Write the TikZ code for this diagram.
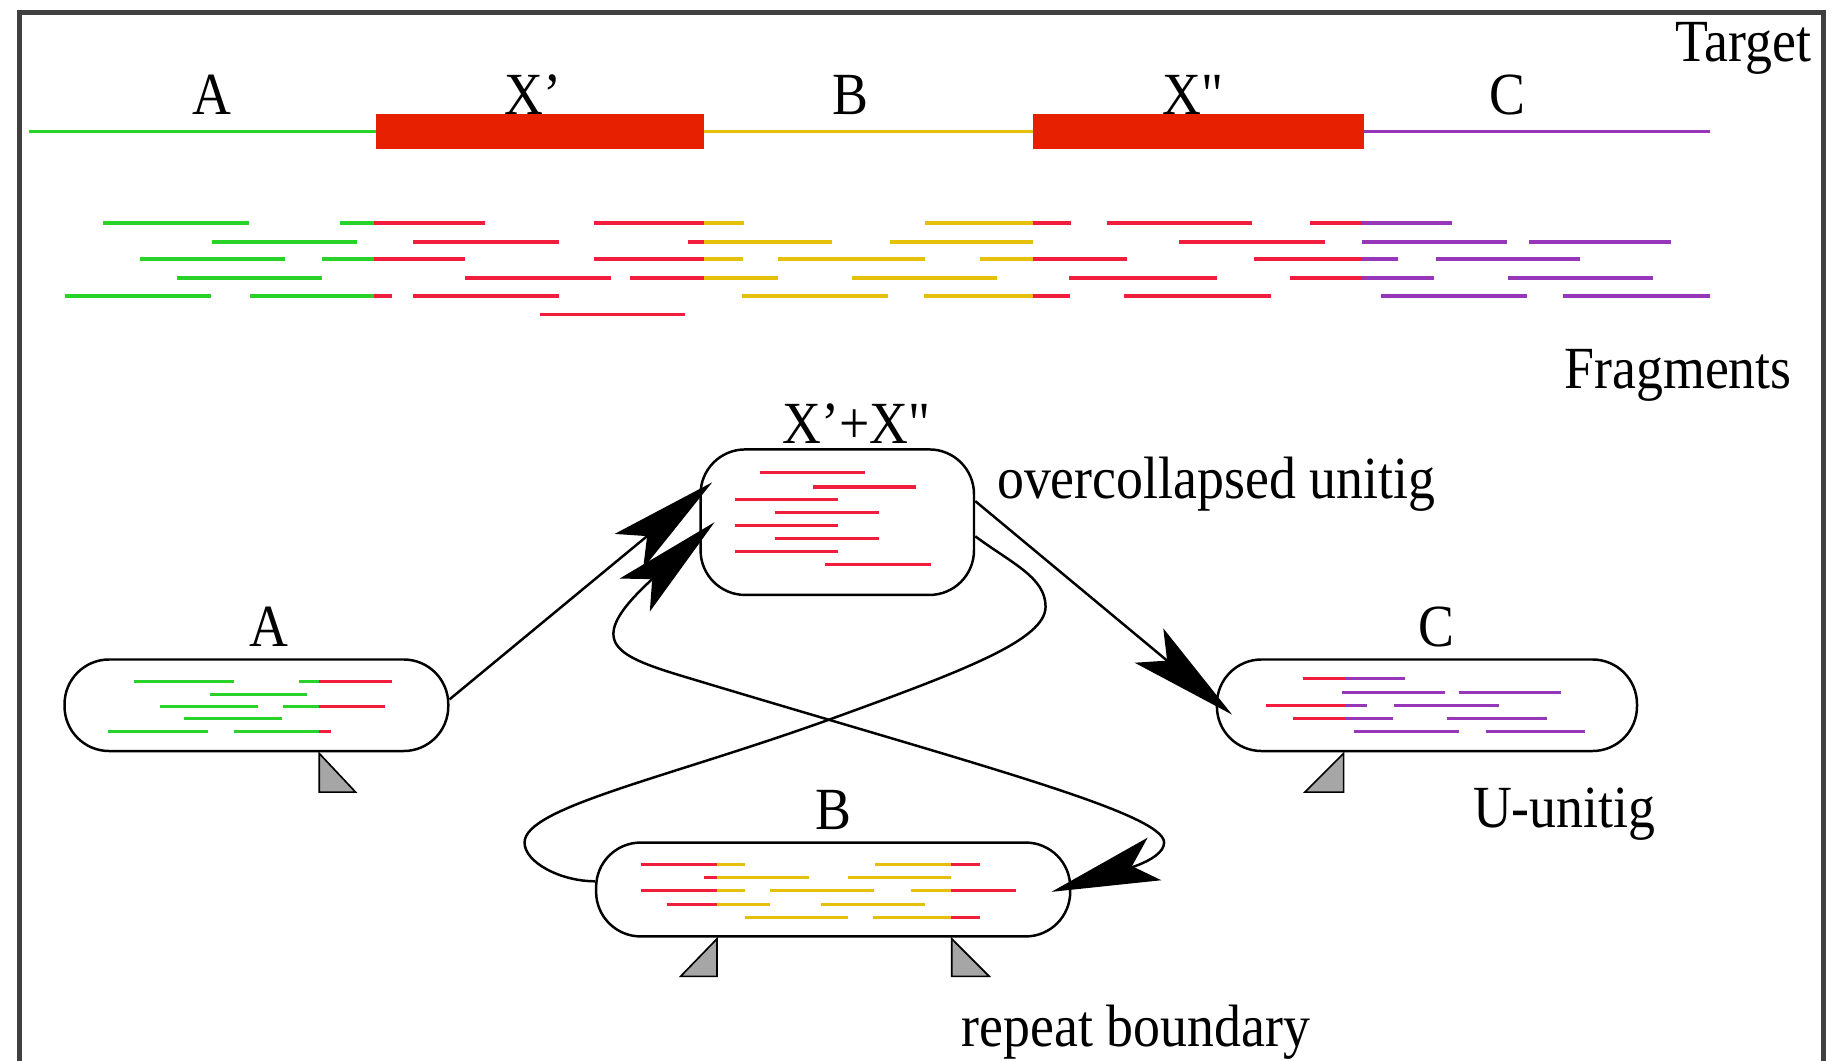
\documentclass[tikz,border=0pt]{standalone}
\usepackage{fontspec}
\setmainfont{Liberation Serif}[FakeStretch=0.9]
\newfontfamily\qfont{Liberation Serif}[FakeStretch=0.9]
\usetikzlibrary{arrows.meta}

\definecolor{fgreen}{RGB}{40,210,40}
\definecolor{fred}{RGB}{240,30,60}
\definecolor{fyellow}{RGB}{228,192,10}
\definecolor{fpurple}{RGB}{150,55,185}
\definecolor{boxred}{RGB}{230,32,0}

\begin{document}
\begin{tikzpicture}[
  font=\fontsize{14.5}{17}\selectfont,
  >={Stealth[length=0.92cm,width=0.38cm,inset=0.2cm]},
  unitig/.style={draw, line width=0.6pt, rounded corners=0.38cm, inner sep=0pt},
  link/.style={line width=0.6pt},
  lbl/.style={inner sep=0pt, anchor=base},
  tline/.style={line width=0.8pt},
  frag/.style={line width=0.9pt},
  sfrag/.style={line width=0.75pt},
  bnd/.style={fill=gray!70, draw=black, line width=0.4pt}
]
\useasboundingbox (0,0) rectangle (15.68,-9.04);

% Frame
\draw[line width=1.2pt, black!75] (0.165,-9.4) -- (0.165,-0.11) -- (15.54,-0.11) -- (15.54,-9.4);

% Target
\draw[tline, fgreen] (0.25,-1.12) -- (3.20,-1.12);
\draw[tline, fyellow] (6.00,-1.12) -- (8.80,-1.12);
\draw[tline, fpurple] (11.62,-1.12) -- (14.57,-1.12);
\fill[boxred] (3.20,-0.97) rectangle (6.00,-1.27);
\fill[boxred] (8.80,-0.97) rectangle (11.62,-1.27);

\node[lbl] (labA) at (1.81,-0.98) {A};
\node[lbl] (labX1) at (4.54,-0.98) {X'};
\node[lbl] (labB) at (7.245,-0.98) {B};
\node[lbl] (labX2) at (10.165,-0.98) {\qfont X"};
\node[lbl] (labC) at (12.85,-0.98) {C};
\node[lbl, anchor=base east] (target) at (15.44,-0.52) {Target};

% Fragments
\draw[frag, fgreen] (0.88,-1.90) -- (2.12,-1.90) (2.90,-1.90) -- (3.19,-1.90)
  (1.81,-2.06) -- (3.04,-2.06)
  (1.19,-2.21) -- (2.43,-2.21) (2.74,-2.21) -- (3.19,-2.21)
  (1.51,-2.37) -- (2.74,-2.37)
  (0.55,-2.52) -- (1.80,-2.52) (2.13,-2.52) -- (3.19,-2.52);
\draw[frag, fred] (3.19,-1.90) -- (4.13,-1.90) (5.06,-1.90) -- (6.00,-1.90)
  (3.52,-2.06) -- (4.76,-2.06) (5.86,-2.06) -- (6.00,-2.06)
  (3.19,-2.21) -- (3.96,-2.21) (5.06,-2.21) -- (6.00,-2.21)
  (3.96,-2.37) -- (5.21,-2.37) (5.37,-2.37) -- (6.00,-2.37)
  (3.19,-2.52) -- (3.34,-2.52) (3.52,-2.52) -- (4.76,-2.52)
  (4.60,-2.68) -- (5.84,-2.68);
\draw[frag, fyellow] (6.00,-1.90) -- (6.34,-1.90) (7.88,-1.90) -- (8.80,-1.90)
  (6.00,-2.06) -- (7.09,-2.06) (7.58,-2.06) -- (8.80,-2.06)
  (6.00,-2.21) -- (6.33,-2.21) (6.63,-2.21) -- (7.88,-2.21) (8.35,-2.21) -- (8.80,-2.21)
  (6.00,-2.37) -- (6.63,-2.37) (7.26,-2.37) -- (8.50,-2.37)
  (6.32,-2.52) -- (7.57,-2.52) (7.87,-2.52) -- (8.80,-2.52);
\draw[frag, fred] (8.80,-1.90) -- (9.13,-1.90) (9.43,-1.90) -- (10.67,-1.90) (11.16,-1.90) -- (11.61,-1.90)
  (10.05,-2.06) -- (11.29,-2.06)
  (8.80,-2.21) -- (9.60,-2.21) (10.69,-2.21) -- (11.61,-2.21)
  (9.11,-2.37) -- (10.37,-2.37) (10.99,-2.37) -- (11.61,-2.37)
  (8.80,-2.52) -- (9.12,-2.52) (9.58,-2.52) -- (10.83,-2.52);
\draw[frag, fpurple] (11.61,-1.90) -- (12.37,-1.90)
  (11.61,-2.06) -- (12.84,-2.06) (13.03,-2.06) -- (14.24,-2.06)
  (11.61,-2.21) -- (11.91,-2.21) (12.24,-2.21) -- (13.46,-2.21)
  (11.61,-2.37) -- (12.22,-2.37) (12.85,-2.37) -- (14.09,-2.37)
  (11.77,-2.52) -- (13.01,-2.52) (13.32,-2.52) -- (14.57,-2.52);

\node[lbl] (fragments) at (14.30,-3.31) {Fragments};

% Unitigs
\node[unitig, minimum width=2.33cm, minimum height=1.24cm] (X) at (7.135,-4.45) {};
\node[unitig, minimum width=3.27cm, minimum height=0.78cm] (A) at (2.185,-6.01) {};
\node[unitig, minimum width=3.58cm, minimum height=0.78cm] (C) at (12.16,-6.01) {};
\node[unitig, minimum width=4.04cm, minimum height=0.80cm] (B) at (7.10,-7.58) {};

\node[lbl] (labXX) at (7.30,-3.78) {X'+{\qfont X"}};
\node[lbl, anchor=base west] (over) at (8.49,-4.25) {overcollapsed unitig};
\node[lbl] (labUA) at (2.29,-5.51) {A};
\node[lbl] (labUC) at (12.24,-5.51) {C};
\node[lbl] (labUB) at (7.10,-7.07) {B};
\node[lbl] (uunitig) at (13.33,-7.05) {U-unitig};
\node[lbl, anchor=base west] (repeat) at (8.19,-8.92) {repeat boundary};

% Fragments inside unitigs
\draw[sfrag, fred] (6.48,-4.03) -- (7.37,-4.03) (6.93,-4.15) -- (7.81,-4.15)
  (6.26,-4.26) -- (7.14,-4.26) (6.60,-4.37) -- (7.49,-4.37)
  (6.26,-4.48) -- (7.14,-4.48) (6.60,-4.59) -- (7.49,-4.59)
  (6.26,-4.70) -- (7.14,-4.70) (7.03,-4.81) -- (7.93,-4.81);
\draw[sfrag, fgreen] (1.14,-5.81) -- (1.99,-5.81) (2.55,-5.81) -- (2.72,-5.81)
  (1.79,-5.915) -- (2.62,-5.915)
  (1.36,-6.02) -- (2.20,-6.02) (2.41,-6.02) -- (2.72,-6.02)
  (1.57,-6.125) -- (2.40,-6.125)
  (0.92,-6.23) -- (1.77,-6.23) (1.99,-6.23) -- (2.72,-6.23);
\draw[sfrag, fred] (2.72,-5.81) -- (3.34,-5.81) (2.72,-6.02) -- (3.28,-6.02)
  (2.72,-6.23) -- (2.82,-6.23);
\draw[sfrag, fred] (11.10,-5.785) -- (11.46,-5.785) (10.79,-6.015) -- (11.46,-6.015)
  (11.02,-6.12) -- (11.46,-6.12);
\draw[sfrag, fpurple] (11.46,-5.785) -- (11.97,-5.785)
  (11.44,-5.90) -- (12.31,-5.90) (12.43,-5.90) -- (13.30,-5.90)
  (11.46,-6.015) -- (11.65,-6.015) (11.88,-6.015) -- (12.77,-6.015)
  (11.46,-6.12) -- (11.87,-6.12) (12.33,-6.12) -- (13.18,-6.12)
  (11.54,-6.235) -- (12.43,-6.235) (12.66,-6.235) -- (13.51,-6.235);
\draw[sfrag, fred] (5.46,-7.365) -- (6.11,-7.365) (8.10,-7.365) -- (8.35,-7.365)
  (6.00,-7.48) -- (6.11,-7.48)
  (5.46,-7.59) -- (6.11,-7.59) (8.10,-7.59) -- (8.66,-7.59)
  (5.68,-7.705) -- (6.11,-7.705)
  (8.10,-7.815) -- (8.35,-7.815);
\draw[sfrag, fyellow] (6.11,-7.365) -- (6.35,-7.365) (7.46,-7.365) -- (8.10,-7.365)
  (6.11,-7.48) -- (6.89,-7.48) (7.23,-7.48) -- (8.10,-7.48)
  (6.11,-7.59) -- (6.35,-7.59) (6.56,-7.59) -- (7.45,-7.59) (7.76,-7.59) -- (8.10,-7.59)
  (6.11,-7.705) -- (6.56,-7.705) (7.00,-7.705) -- (7.88,-7.705)
  (6.35,-7.815) -- (7.23,-7.815) (7.44,-7.815) -- (8.10,-7.815);

% Repeat boundaries
\filldraw[bnd] (2.72,-6.42) -- (2.72,-6.75) -- (3.03,-6.75) -- cycle;
\filldraw[bnd] (11.45,-6.42) -- (11.45,-6.75) -- (11.12,-6.75) -- cycle;
\filldraw[bnd] (6.11,-8.00) -- (6.11,-8.32) -- (5.80,-8.32) -- cycle;
\filldraw[bnd] (8.11,-8.00) -- (8.11,-8.32) -- (8.43,-8.32) -- cycle;

% Edges
\draw[link, ->] ([yshift=0.05cm]A.east) -- ([xshift=0.11cm,yshift=0.34cm]X.west);
\draw[link, ->] ([yshift=0.18cm]X.east) -- ([xshift=0.14cm,yshift=-0.08cm]C.west);
\draw[link, <->] ([xshift=0.13cm]X.west) .. controls (4.95,-5.49) and (5.24,-5.59) .. (5.91,-5.79)
  .. controls (8.30,-6.51) and (9.92,-6.93) .. (9.92,-7.18)
  .. controls (9.92,-7.35) and (9.43,-7.45) .. ([xshift=-0.17cm,yshift=-0.02cm]B.east);
\draw[link] ([yshift=-0.12cm]X.east) .. controls (8.62,-4.80) and (8.91,-4.92) .. (8.91,-5.17)
  .. controls (8.91,-5.45) and (8.23,-5.71) .. (7.10,-6.12)
  .. controls (5.69,-6.63) and (4.47,-6.88) .. (4.47,-7.18)
  .. controls (4.47,-7.35) and (4.78,-7.51) .. ([yshift=0.07cm]B.west);

\end{tikzpicture}
\end{document}
